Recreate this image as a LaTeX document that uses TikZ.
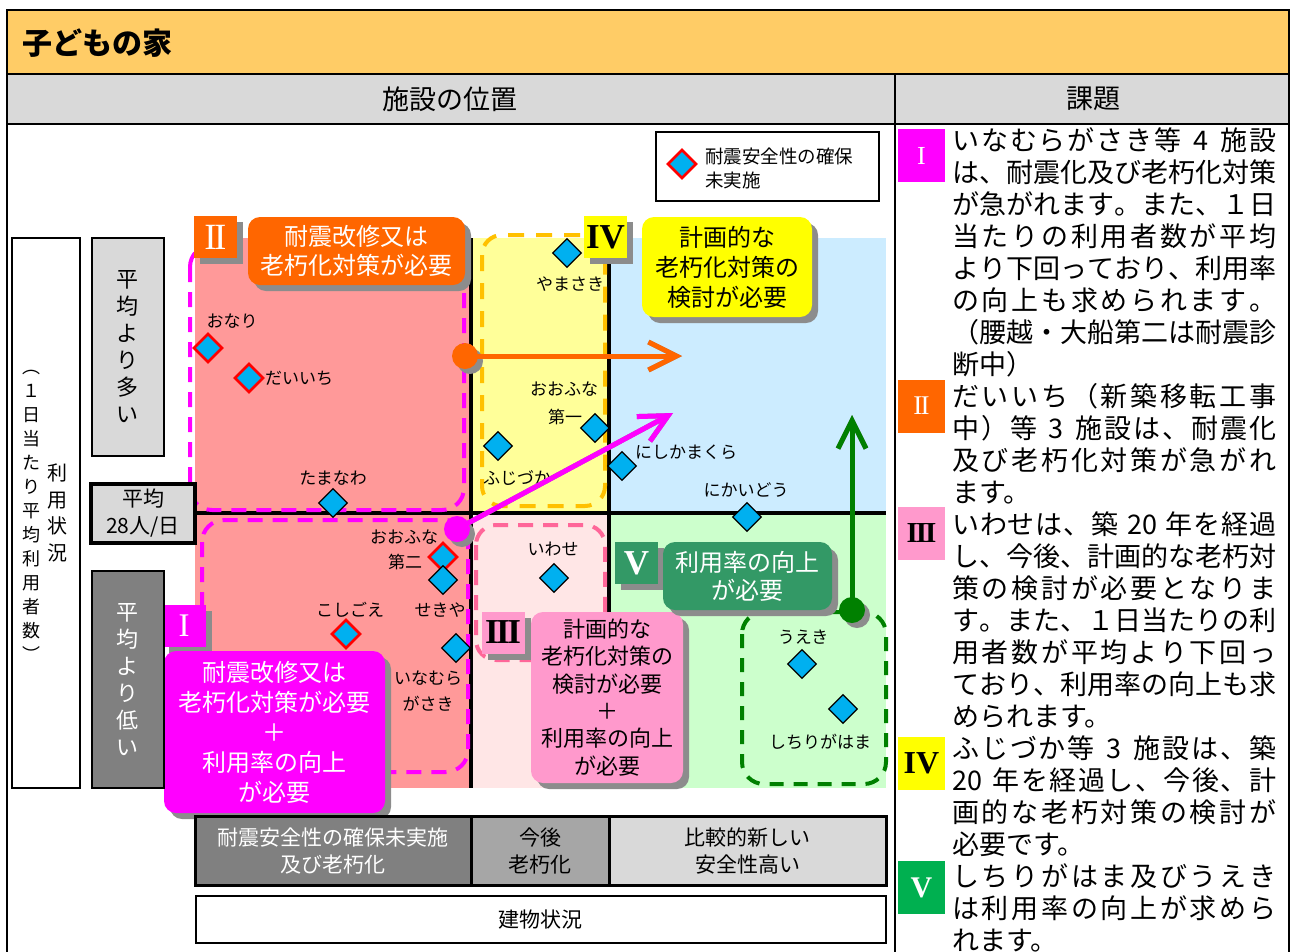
\documentclass[tikz,border=0pt]{standalone}
\usepackage{fontspec}
\setmainfont{Noto Sans CJK JP}
\newfontfamily\serf{Liberation Serif}
\usetikzlibrary{shapes.geometric,arrows.meta,shadows}
\XeTeXinterchartokenstate=0
\newXeTeXintercharclass\cjkcls
\makeatletter
\count@="3000
\loop\ifnum\count@<"3100 \XeTeXcharclass\count@=\cjkcls\relax\advance\count@\@ne\repeat
\count@="4E00
\loop\ifnum\count@<"A000 \XeTeXcharclass\count@=\cjkcls\relax\advance\count@\@ne\repeat
\count@="FF00
\loop\ifnum\count@<"FFF0 \XeTeXcharclass\count@=\cjkcls\relax\advance\count@\@ne\repeat
\makeatother
\XeTeXinterchartoks\cjkcls\cjkcls={\hskip0pt plus 1pt\relax}
\newcommand\J[1]{{\XeTeXinterchartokenstate=1 \makebox[324pt][s]{#1}}}
\newcommand\rI{{\serf I}}
\newcommand\rII{{\serf I\kern-0.07em I}}
\newcommand\rIII{{\serf\bfseries I\kern-0.07em I\kern-0.07em I}}
\newcommand\rIV{{\serf\bfseries IV}}
\newcommand\rV{{\serf\bfseries V}}
\definecolor{titleC}{HTML}{FFCC66}
\definecolor{headC}{HTML}{D9D9D9}
\definecolor{salmonC}{HTML}{FF9999}
\definecolor{lyelC}{HTML}{FFFF99}
\definecolor{lblueC}{HTML}{CCECFF}
\definecolor{lpinkC}{HTML}{FFE6E6}
\definecolor{lgreenC}{HTML}{CCFFCC}
\definecolor{orangeC}{HTML}{FF6600}
\definecolor{magC}{HTML}{FF00FF}
\definecolor{yelC}{HTML}{FFFF00}
\definecolor{pinkC}{HTML}{FF99CC}
\definecolor{seaC}{HTML}{339966}
\definecolor{grnC}{HTML}{00B050}
\definecolor{dgrnC}{HTML}{008000}
\definecolor{goldC}{HTML}{FFC000}
\definecolor{hpinkC}{HTML}{FF6699}
\definecolor{cyanC}{HTML}{00B0F0}
\definecolor{shC}{HTML}{8C8C8C}
\definecolor{dgrayC}{HTML}{808080}
\definecolor{mgrayC}{HTML}{A6A6A6}
\tikzset{
  lab/.style={font=\fontsize{17}{20}\selectfont, inner sep=0},
  fac/.style={diamond, draw=black, fill=cyanC, minimum width=29pt, minimum height=29pt, inner sep=0, line width=1.2pt},
  facr/.style={fac, draw=red, line width=2.6pt},
  dshm/.style={draw=magC, line width=4pt, dash pattern=on 15pt off 10pt, rounded corners=22pt},
  dshg/.style={draw=goldC, line width=4pt, dash pattern=on 16pt off 12pt, rounded corners=20pt},
  dshp/.style={draw=hpinkC, line width=4pt, dash pattern=on 15pt off 10pt, rounded corners=20pt},
  dshv/.style={draw=dgrnC, line width=4pt, dash pattern=on 14pt off 10pt, rounded corners=22pt},
  sh/.style={drop shadow={shadow xshift=6pt, shadow yshift=-6pt, fill=shC, opacity=1}},
  tagbx/.style={sh, minimum width=43pt, minimum height=42pt, inner sep=0, font=\fontsize{35}{35}\selectfont},
  rbx/.style={sh, rounded corners=12pt, inner sep=0, align=center},
  rtag/.style={minimum width=47pt, minimum height=53pt, inner sep=0, font=\fontsize{29}{29}\selectfont},
  rt/.style={font=\fontsize{27}{32}\selectfont, inner sep=0, anchor=base west},
  bbx/.style={draw=black, line width=3pt, inner sep=0, align=center, font=\fontsize{21}{27}\selectfont},
  vtx/.style={inner sep=0, align=center},
  arrbase/.style={line width=5pt, -{Straight Barb[length=28pt,width=28pt]}},
  arrsh/.style={arrbase, draw=shC, shift={(5,5)}}
}
\begin{document}
\begin{tikzpicture}[x=1pt,y=-1pt]
\useasboundingbox (0,0) rectangle (1292,951);
% frame
\fill[titleC] (7,10) rectangle (1289,74);
\fill[headC] (7,74) rectangle (1289,124);
\draw[line width=2pt] (7,10) rectangle (1289,960);
\draw[line width=2pt] (7,74) -- (1289,74);
\draw[line width=2pt] (7,124) -- (1289,124);
\draw[line width=2pt] (895,74) -- (895,960);
\node[font=\fontsize{30}{36}\selectfont\bfseries, anchor=west, inner sep=0] (title) at (22,43) {子どもの家};
\node[font=\fontsize{27}{32}\selectfont, inner sep=0] (h1) at (450,99) {施設の位置};
\node[font=\fontsize{27}{32}\selectfont, inner sep=0] (h2) at (1093,99) {課題};
% quadrant fills
\fill[salmonC] (195,238) rectangle (471,788);
\fill[lyelC] (471,238) rectangle (609,513);
\fill[lblueC] (609,238) rectangle (886,513);
\fill[lpinkC] (471,513) rectangle (609,788);
\fill[lgreenC] (609,513) rectangle (886,788);
\draw[line width=4.5pt] (471,238) -- (471,788);
\draw[line width=4.5pt] (609,238) -- (609,788);
\draw[line width=4.5pt] (195,513) -- (886,513);
% dashed groups
\draw[dshm] (190,245) rectangle (464,510);
\draw[dshm] (202,520) rectangle (468,772);
\draw[dshg] (482,235) rectangle (605,506);
\draw[dshp] (476,525) rectangle (605,660);
\draw[dshv] (742,612) rectangle (886,784);
% facilities
\node[facr] (d1) at (208,348) {};
\node[facr] (d2) at (249,378) {};
\node[fac] (d3) at (333,503) {};
\node[fac] (d4) at (567,253) {};
\node[fac] (d5) at (595,428) {};
\node[fac] (d6) at (498,446) {};
\node[fac] (d7) at (622,466) {};
\node[fac] (d8) at (747,517) {};
\node[facr] (d9) at (443,557) {};
\node[fac] (d10) at (443,580) {};
\node[fac] (d11) at (456,648) {};
\node[facr] (d12) at (346,634) {};
\node[fac] (d13) at (554,578) {};
\node[fac] (d14) at (802,664) {};
\node[fac] (d15) at (843,709) {};
\node[lab] (n1) at (232,321) {おなり};
\node[lab, anchor=west] (n2) at (265,378) {だいいち};
\node[lab] (n3) at (333,478) {たまなわ};
\node[lab] (n4) at (570,284) {やまさき};
\node[lab] (n5a) at (564,389) {おおふな};
\node[lab] (n5b) at (565,417) {第一};
\node[lab] (n6) at (517,478) {ふじづか};
\node[lab, anchor=west] (n7) at (635,452) {にしかまくら};
\node[lab] (n8) at (746,490) {にかいどう};
\node[lab] (n9a) at (404,537) {おおふな};
\node[lab] (n9b) at (405,562) {第二};
\node[lab] (n10) at (440,610) {せきや};
\node[lab] (n11a) at (428,678) {いなむら};
\node[lab] (n11b) at (428,704) {がさき};
\node[lab] (n12) at (350,610) {こしごえ};
\node[lab] (n13) at (553,549) {いわせ};
\node[lab] (n14) at (803,637) {うえき};
\node[lab] (n15) at (820,742) {しちりがはま};
% arrows
\coordinate (oS) at (465,356);
\coordinate (oE) at (682,356);
\coordinate (mS) at (457,529);
\coordinate (mE) at (673,413);
\coordinate (gS) at (852,610);
\coordinate (gE) at (852,415);
\draw[arrsh] (oS) -- (oE);
\draw[arrsh] (mS) -- (mE);
\draw[arrsh] (gS) -- (gE);
\fill[shC] ([shift={(5,5)}]oS) circle (13pt);
\fill[shC] ([shift={(5,5)}]mS) circle (13pt);
\fill[shC] ([shift={(5,5)}]gS) circle (13pt);
\draw[arrbase, draw=orangeC] (oS) -- (oE);
\draw[arrbase, draw=magC] (mS) -- (mE);
\draw[arrbase, draw=dgrnC] (gS) -- (gE);
\node[circle, fill=orangeC, minimum size=26pt, inner sep=0] (oC) at (oS) {};
\node[circle, fill=magC, minimum size=26pt, inner sep=0] (mC) at (mS) {};
\node[circle, fill=dgrnC, minimum size=26pt, inner sep=0] (gC) at (gS) {};
% tags and boxes
\node[tagbx, fill=orangeC, text=white, font=\fontsize{37}{37}\selectfont] (t2) at (215.5,237) {\rII};
\node[rbx, fill=orangeC, text=white, font=\fontsize{24}{29}\selectfont, minimum width=217pt, minimum height=68pt] (b2) at (356.5,251) {耐震改修又は\\老朽化対策が必要};
\node[tagbx, fill=yelC, text=black] (t4) at (605.5,237) {\rIV};
\node[rbx, fill=yelC, text=black, font=\fontsize{24}{30}\selectfont, minimum width=170pt, minimum height=100pt] (b4) at (727,267) {計画的な\\老朽化対策の\\検討が必要};
\node[tagbx, fill=magC, text=white, font=\fontsize{33}{33}\selectfont] (t1) at (184,625.5) {\rI};
\node[rbx, fill=magC, text=white, font=\fontsize{24}{30}\selectfont, minimum width=221pt, minimum height=162pt] (b1) at (274.5,732) {耐震改修又は\\老朽化対策が必要\\＋\\利用率の向上\\が必要};
\node[tagbx, fill=pinkC, text=black] (t3) at (503,632.5) {\rIII};
\node[rbx, fill=pinkC, text=black, font=\fontsize{22}{27.4}\selectfont, minimum width=152pt, minimum height=171pt] (b3) at (607,697.5) {計画的な\\老朽化対策の\\検討が必要\\＋\\利用率の向上\\が必要};
\node[tagbx, fill=seaC, text=white] (t5) at (636.5,563) {\rV};
\node[rbx, fill=seaC, text=white, font=\fontsize{24}{28}\selectfont, minimum width=169pt, minimum height=68pt] (b5) at (747.5,576) {利用率の向上\\が必要};
% legend
\node[draw=black, line width=1.5pt, minimum width=223pt, minimum height=69pt, inner sep=0] (leg) at (767.5,166.5) {};
\node[facr] (legd) at (682,164) {};
\node[vtx, align=left, anchor=west, font=\fontsize{18.5}{24}\selectfont] (legt) at (705,168) {耐震安全性の確保\\未実施};
% left axis
\node[draw=black, line width=2.5pt, fill=white, minimum width=68pt, minimum height=550pt, inner sep=0] (ax) at (46,513) {};
\node[vtx, font=\fontsize{18}{24}\selectfont] (ax1) at (32,516) {︵\\１\\日\\当\\た\\り\\平\\均\\利\\用\\者\\数\\︶};
\node[vtx, font=\fontsize{20}{26.5}\selectfont] (ax2) at (57,513) {利\\用\\状\\況};
\node[draw=black, line width=2.5pt, fill=headC, minimum width=72pt, minimum height=218pt, inner sep=0] (hi) at (128,347) {};
\node[vtx, font=\fontsize{22}{27}\selectfont] (hit) at (127,347) {平\\均\\よ\\り\\多\\い};
\node[draw=black, line width=4pt, fill=headC, minimum width=104pt, minimum height=59pt, inner sep=0, align=center, font=\fontsize{21}{27}\selectfont] (avg) at (143,513.5) {平均\\28人/日};
\node[draw=black, line width=2.5pt, fill=dgrayC, minimum width=72pt, minimum height=217pt, inner sep=0] (lo) at (128,679.5) {};
\node[vtx, text=white, font=\fontsize{22}{27}\selectfont] (lot) at (127,680) {平\\均\\よ\\り\\低\\い};
% bottom axis
\node[bbx, fill=dgrayC, text=white, minimum width=276pt, minimum height=69pt] (bb1) at (333,850.5) {耐震安全性の確保未実施\\及び老朽化};
\node[bbx, fill=mgrayC, text=black, minimum width=138pt, minimum height=69pt] (bb2) at (540,850.5) {今後\\老朽化};
\node[bbx, fill=headC, text=black, minimum width=277pt, minimum height=69pt] (bb3) at (747.5,850.5) {比較的新しい\\安全性高い};
\node[draw=black, line width=2.5pt, fill=white, minimum width=690pt, minimum height=47pt, inner sep=0] (bb4) at (541,919.5) {};
\node[font=\fontsize{21}{27}\selectfont, inner sep=0] (bb4t) at (540,920) {建物状況};
% right column
\node[rtag, fill=magC, text=white, font=\fontsize{26}{26}\selectfont] (rt1) at (921.5,155.5) {\rI};
\node[rtag, fill=orangeC, text=white, font=\fontsize{27}{27}\selectfont] (rt2) at (921.5,406) {\rII};
\node[rtag, fill=pinkC, text=black] (rt3) at (921.5,533) {\rIII};
\node[rtag, fill=yelC, text=black, font=\fontsize{32}{32}\selectfont] (rt4) at (921.5,763) {\rIV};
\node[rtag, fill=grnC, text=white, font=\fontsize{30}{30}\selectfont] (rt5) at (921.5,887.5) {\rV};
\node[rt] (r0) at (952,150) {\J{いなむらがさき等 4 施設}};
\node[rt] (r1) at (952,182) {\J{は、耐震化及び老朽化対策}};
\node[rt] (r2) at (952,214) {\J{が急がれます。また、１日}};
\node[rt] (r3) at (952,246) {\J{当たりの利用者数が平均}};
\node[rt] (r4) at (952,278) {\J{より下回っており、利用率}};
\node[rt] (r5) at (952,310) {\J{の向上も求められます。}};
\node[rt] (r6) at (952,342) {\J{（腰越・大船第二は耐震診}};
\node[rt] (r7) at (952,374) {断中）};
\node[rt] (r8) at (952,406) {\J{だいいち（新築移転工事}};
\node[rt] (r9) at (952,438) {\J{中）等 3 施設は、耐震化}};
\node[rt] (r10) at (952,470) {\J{及び老朽化対策が急がれ}};
\node[rt] (r11) at (952,502) {ます。};
\node[rt] (r12) at (952,534) {\J{いわせは、築 20 年を経過}};
\node[rt] (r13) at (952,566) {\J{し、今後、計画的な老朽対}};
\node[rt] (r14) at (952,598) {\J{策の検討が必要となりま}};
\node[rt] (r15) at (952,630) {\J{す。また、１日当たりの利}};
\node[rt] (r16) at (952,662) {\J{用者数が平均より下回っ}};
\node[rt] (r17) at (952,694) {\J{ており、利用率の向上も求}};
\node[rt] (r18) at (952,726) {められます。};
\node[rt] (r19) at (952,758) {\J{ふじづか等 3 施設は、築}};
\node[rt] (r20) at (952,790) {\J{20 年を経過し、今後、計}};
\node[rt] (r21) at (952,822) {\J{画的な老朽対策の検討が}};
\node[rt] (r22) at (952,854) {必要です。};
\node[rt] (r23) at (952,886) {\J{しちりがはま及びうえき}};
\node[rt] (r24) at (952,918) {\J{は利用率の向上が求めら}};
\node[rt] (r25) at (952,950) {れます。};
\end{tikzpicture}
\end{document}
